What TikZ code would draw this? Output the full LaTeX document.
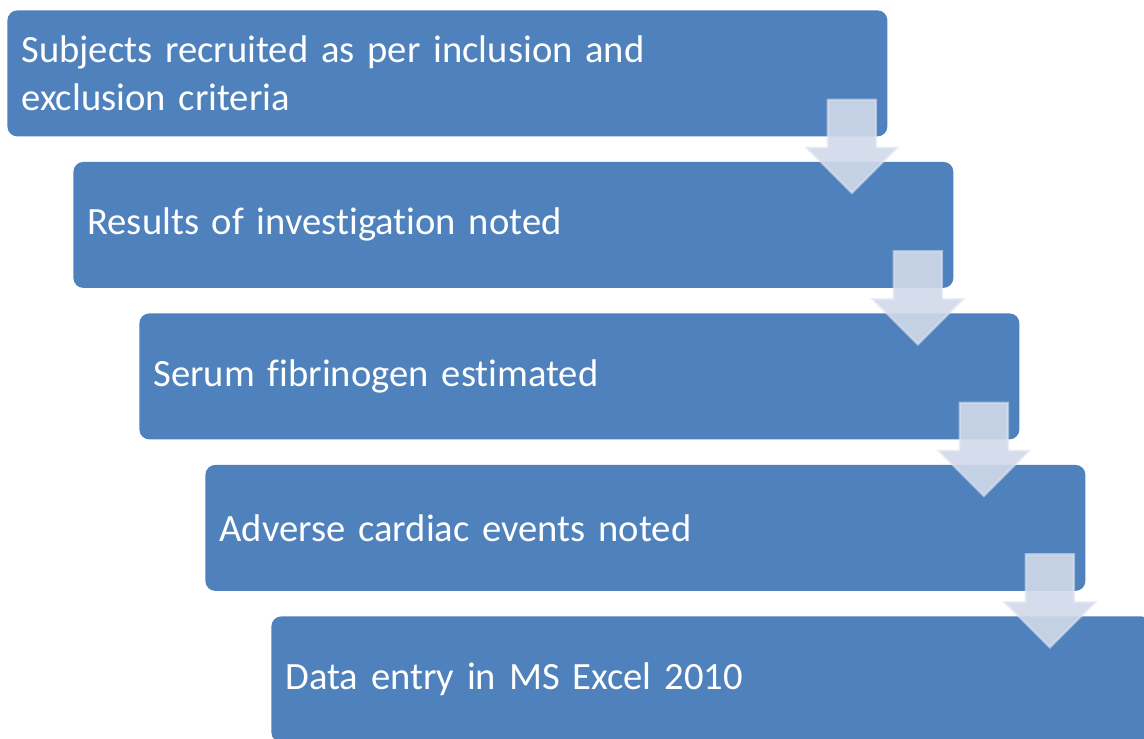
\documentclass[tikz,border=0pt]{standalone}
\usepackage{fontspec}
\setmainfont{Carlito}[Ligatures={NoCommon,NoRare}]
\usepackage{tikz}
\usetikzlibrary{calc}

\definecolor{stepblue}{RGB}{79,129,189}
\definecolor{arrowfill}{RGB}{209,217,233}
\definecolor{arrowedge}{RGB}{222,228,240}

\tikzset{
  stepbox/.style={fill=stepblue, rounded corners=5pt, anchor=north west,
    text width=426pt, inner xsep=7pt, inner ysep=0pt, minimum height=63pt,
    align=left, text=white, font=\fontsize{19.3}{24}\selectfont},
  downarrow/.style={fill=arrowfill, fill opacity=0.9, draw=arrowedge,
    draw opacity=0.6, line width=1.2pt, line join=miter}
}

% one arrow below the south east corner of a box
\newcommand{\steparrow}[1]{%
  \draw[downarrow] ($ (#1.south east)+(-60,-37) $) -- ($ (#1.south east)+(-12,-37) $)
    -- ($ (#1.south east)+(-12,11) $) -- ($ (#1.south east)+(9,11) $)
    -- ($ (#1.south east)+(-36,56) $) -- ($ (#1.south east)+(-81,11) $)
    -- ($ (#1.south east)+(-60,11) $) -- cycle;}

\begin{document}
\begin{tikzpicture}[x=0.5pt, y=-0.5pt]

  \clip (0,0) rectangle (1144,738);
  \fill[white] (0,0) rectangle (1144,738);

  \node[stepbox] (recruit) at (7,10) {Subjects recruited as per inclusion and\\exclusion criteria};
  \node[stepbox] (invest) at (73,161.5) {Results of investigation noted};
  \node[stepbox] (serum) at (139,313) {Serum fibrinogen estimated};
  \node[stepbox] (events) at (205,464.5) {Adverse cardiac events noted};
  \node[stepbox] (entry) at (271,616) {Data entry in MS Excel 2010};

  \steparrow{recruit}
  \steparrow{invest}
  \steparrow{serum}
  \steparrow{events}

\end{tikzpicture}
\end{document}
